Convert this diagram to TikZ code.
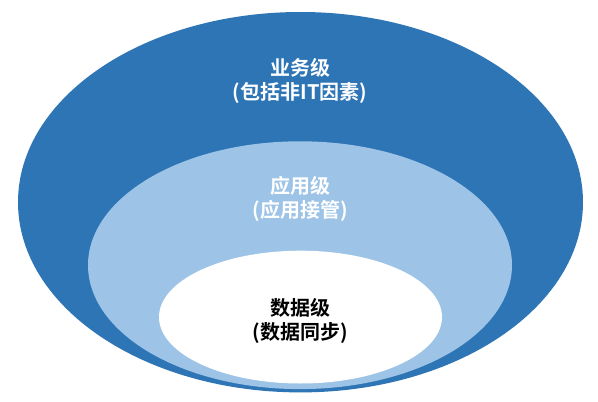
\documentclass[tikz,border=0pt]{standalone}
\usepackage{fontspec}
\newfontfamily\cjk{Noto Sans CJK SC}[BoldFont=* Bold]
\definecolor{outerblue}{HTML}{2E75B6}
\definecolor{midblue}{HTML}{9DC3E6}
\begin{document}
\begin{tikzpicture}[x=1pt,y=-1pt,
  lbl/.style={font=\cjk\bfseries\fontsize{20}{24}\selectfont, align=center, inner sep=0pt}]
\useasboundingbox (0,0) rectangle (598,402);
\fill[white] (0,0) rectangle (598,402);
\fill[outerblue] (300.5,202.2) ellipse [x radius=282.5, y radius=190.2];
\fill[midblue] (300,265.2) ellipse [x radius=212, y radius=123.9];
\fill[white] (300.5,317.1) ellipse [x radius=141.5, y radius=66.4];
\node[lbl, text=white] (biz) at (300,81) {业务级\\(包括非IT因素)};
\node[lbl, text=white] (app) at (300,199) {应用级\\(应用接管)};
\node[lbl, text=black] (data) at (300,320.5) {数据级\\(数据同步)};
\end{tikzpicture}
\end{document}
